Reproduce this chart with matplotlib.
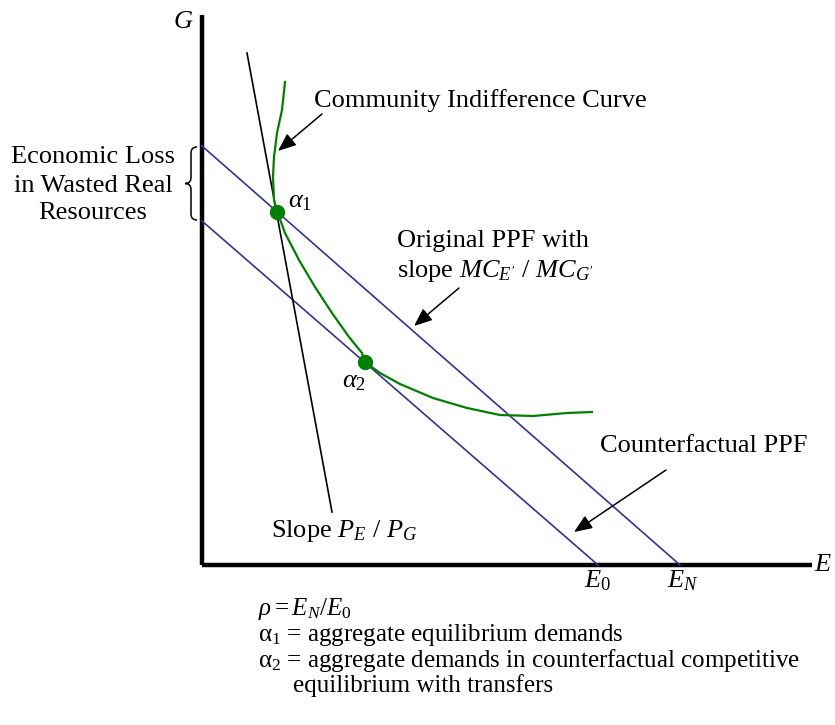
"""PPF / community indifference diagram: economic loss from wasted real resources."""

import matplotlib
matplotlib.use("Agg")
import matplotlib.pyplot as plt
from matplotlib.path import Path
from matplotlib.patches import PathPatch

plt.rcParams["font.family"] = ["Liberation Serif", "DejaVu Serif"]
plt.rcParams["mathtext.fontset"] = "custom"
plt.rcParams["mathtext.rm"] = "Liberation Serif"
plt.rcParams["mathtext.it"] = "Liberation Serif:italic"

# ── diagram values (E along x, G along y) ─────────────────────────
E_N, G_ORIG = 478, 419          # original PPF intercepts
E_0, G_CF = 396, 344            # counterfactual PPF intercepts
PRICE_E = [45, 130]             # price line P_E / P_G
PRICE_G = [512, 53]
CIC_E = [83, 80, 75, 72, 71, 72, 75, 83, 97, 113, 130, 147, 160, 163,
         178, 198, 231, 265, 298, 331, 365, 390]
CIC_G = [483, 455, 432, 408, 388, 365, 354, 332, 305, 278, 252, 228, 212,
         203, 192, 181, 167, 157, 150, 149, 152, 153]
ALPHA1 = (75, 353)
ALPHA2 = (163, 203)
G_TOP, E_END = 550, 610

BLUE = "#333399"
GREEN = "#008000"
FS = 19        # chart labels
FS_NOTE = 18   # notes under the axis

fig = plt.figure(figsize=(8.35, 7.25), dpi=100)
ax = fig.add_axes([0, 0, 1, 1])
ax.set_xlim(-202, 633)
ax.set_ylim(-160, 565)
ax.axis("off")

# axes
ax.plot([0, 0], [0, G_TOP], color="black", lw=3.2, solid_capstyle="butt")
ax.plot([0, E_END], [0, 0], color="black", lw=3.2, solid_capstyle="butt")
ax.text(-19, G_TOP - 7, "$G$", fontsize=FS, ha="center", va="center")
ax.text(621, 0, "$E$", fontsize=FS, ha="center", va="center")

# PPFs, price line, indifference curve
ax.plot([0, E_N], [G_ORIG, 0], color=BLUE, lw=1.2)
ax.plot([0, E_0], [G_CF, 0], color=BLUE, lw=1.2)
ax.plot(PRICE_E, PRICE_G, color="black", lw=1.2)
ax.plot(CIC_E, CIC_G, color=GREEN, lw=1.6, solid_joinstyle="round")
for pt in (ALPHA1, ALPHA2):
    ax.plot(*pt, "o", color=GREEN, ms=10, zorder=5)

ax.text(86, 358, r"$\alpha_1$", fontsize=FS, ha="left", va="baseline")
ax.text(140, 178, r"$\alpha_2$", fontsize=FS, ha="left", va="baseline")
ax.text(396, -22, "$E_0$", fontsize=FS, ha="center", va="baseline")
ax.text(481, -22, "$E_N$", fontsize=FS, ha="center", va="baseline")

# labels with arrows
arrow = dict(arrowstyle="-|>,head_length=1.1,head_width=0.45",
             mutation_scale=10, color="black", lw=1.1,
             shrinkA=0, shrinkB=0)
ax.text(112, 458, "Community Indifference Curve", fontsize=FS,
        ha="left", va="baseline")
ax.annotate("", xy=(76, 414), xytext=(120, 451), arrowprops=arrow)

ax.text(195, 318, "Original PPF with", fontsize=FS, ha="left", va="baseline")
ax.text(195, 288, r"slope $MC_{E'}$ / $MC_{G'}$", fontsize=FS,
        ha="left", va="baseline")
ax.annotate("", xy=(212, 239), xytext=(257, 277), arrowprops=arrow)

ax.text(398, 113, "Counterfactual PPF", fontsize=FS, ha="left", va="baseline")
ax.annotate("", xy=(372, 33), xytext=(464, 95), arrowprops=arrow)

ax.text(69, 28, r"Slope $P_E$ / $P_G$", fontsize=FS, ha="left", va="baseline")

# brace and economic-loss label
bx, sx, tx = -5, -11, -17
top, mid, bot = G_ORIG - 1, (G_ORIG + G_CF) / 2, G_CF + 1
verts = [(bx, top), (sx, top), (sx, top - 6),
         (sx, mid + 6), (sx, mid), (tx, mid),
         (sx, mid), (sx, mid - 6),
         (sx, bot + 6), (sx, bot), (bx, bot)]
codes = [Path.MOVETO, Path.CURVE3, Path.CURVE3,
         Path.LINETO, Path.CURVE3, Path.CURVE3,
         Path.CURVE3, Path.CURVE3,
         Path.LINETO, Path.CURVE3, Path.CURVE3]
ax.add_patch(PathPatch(Path(verts, codes), fill=False, lw=1.1,
                       edgecolor="black"))
for txt, g in [("Economic Loss", 402), ("in Wasted Real", 373),
               ("Resources", 346)]:
    ax.text(-109, g, txt, fontsize=FS, ha="center", va="baseline")

# notes under the axis
notes = [(56, -50, r"$\rho = E_N/E_0$"),
         (56, -76, "α$_1$ = aggregate equilibrium demands"),
         (56, -102, "α$_2$ = aggregate demands in counterfactual competitive"),
         (91, -127, "equilibrium with transfers")]
for e, g, txt in notes:
    ax.text(e, g, txt, fontsize=FS_NOTE, ha="left", va="baseline")

fig.savefig("out.png", dpi=100)
